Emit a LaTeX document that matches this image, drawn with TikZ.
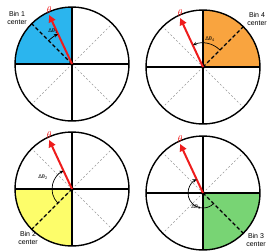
\documentclass[tikz,border=0pt]{standalone}
\usepackage{fontspec}
\setsansfont{Liberation Sans}
\usetikzlibrary{arrows.meta,calc}
\definecolor{binblue}{HTML}{2BB5EE}
\definecolor{binorange}{HTML}{F9A43F}
\definecolor{binyellow}{HTML}{FDFD6A}
\definecolor{bingreen}{HTML}{78D474}
\definecolor{arrred}{HTML}{EE1C1C}
\tikzset{
  rim/.style={line width=1.4pt,draw=black},
  axis/.style={line width=1.1pt,draw=black},
  guide/.style={line width=0.6pt,draw=black!40,dash pattern=on 2pt off 2pt},
  bincenter/.style={line width=1.4pt,draw=black,dash pattern=on 3.5pt off 2.5pt},
  thetaarrow/.style={line width=2pt,draw=arrred,-{Triangle[length=7pt,width=7pt]}},
  darc/.style={line width=0.7pt,draw=black,-{Stealth[length=4pt,width=3.5pt]}},
  binlabel/.style={font=\sffamily\fontsize{7}{8}\selectfont,align=center,inner sep=0pt},
  dlabel/.style={font=\sffamily\fontsize{5.5}{6}\selectfont,inner sep=0pt},
  thlabel/.style={text=arrred,font=\fontsize{10}{10}\selectfont,inner sep=0pt}
}
\newcommand{\wheel}[7]{% name, center, fill colour, fill start angle, dashed angle, arc radius, arc start
  \coordinate (#1c) at #2;
  \fill[#3] (#1c) -- ++(#4:57) arc[start angle=#4,end angle=#4+90,radius=57] -- cycle;
  \foreach \a in {45,135,225,315}{\draw[guide] (#1c) -- ++(\a:57);}
  \draw[axis] ($(#1c)+(-57,0)$) -- ($(#1c)+(57,0)$);
  \draw[axis] ($(#1c)+(0,-57)$) -- ($(#1c)+(0,57)$);
  \draw[bincenter] (#1c) -- ++(#5:57);
  \draw[rim] (#1c) circle[radius=57];
  \coordinate (#1t) at ($(#1c)+(115:54)$);
  \draw[thetaarrow] (#1c) -- (#1t);
  \node[thlabel,anchor=south] (#1th) at ($(#1t)+(0,1.5)$) {$\theta$};
  \draw[darc] ($(#1c)+(#7:#6)$) arc[start angle=#7,end angle=115,radius=#6];
}
\begin{document}
\begin{tikzpicture}[x=1pt,y=1pt]
\useasboundingbox (0,0) rectangle (273,250);
\wheel{a}{(72,186)}{binblue}{90}{135}{33}{135}
\wheel{b}{(203,183)}{binorange}{0}{45}{24}{45}
\wheel{c}{(72,61)}{binyellow}{180}{225}{20}{225}
\wheel{d}{(203,57)}{bingreen}{270}{315}{15}{315}
\node[binlabel] (la) at (17,232) {Bin 1\\center};
\node[binlabel] (lb) at (257,231) {Bin 4\\center};
\node[binlabel] (lc) at (28,12) {Bin 2\\center};
\node[binlabel] (ld) at (256,10) {Bin 3\\center};
\node[dlabel] (da) at (53,219) {Δθ\textsubscript{1}};
\node[dlabel] (db) at (210,211) {Δθ\textsubscript{4}};
\node[dlabel] (dc) at (43,73) {Δθ\textsubscript{2}};
\node[dlabel] (dd) at (196,43) {Δθ\textsubscript{3}};
\end{tikzpicture}
\end{document}
